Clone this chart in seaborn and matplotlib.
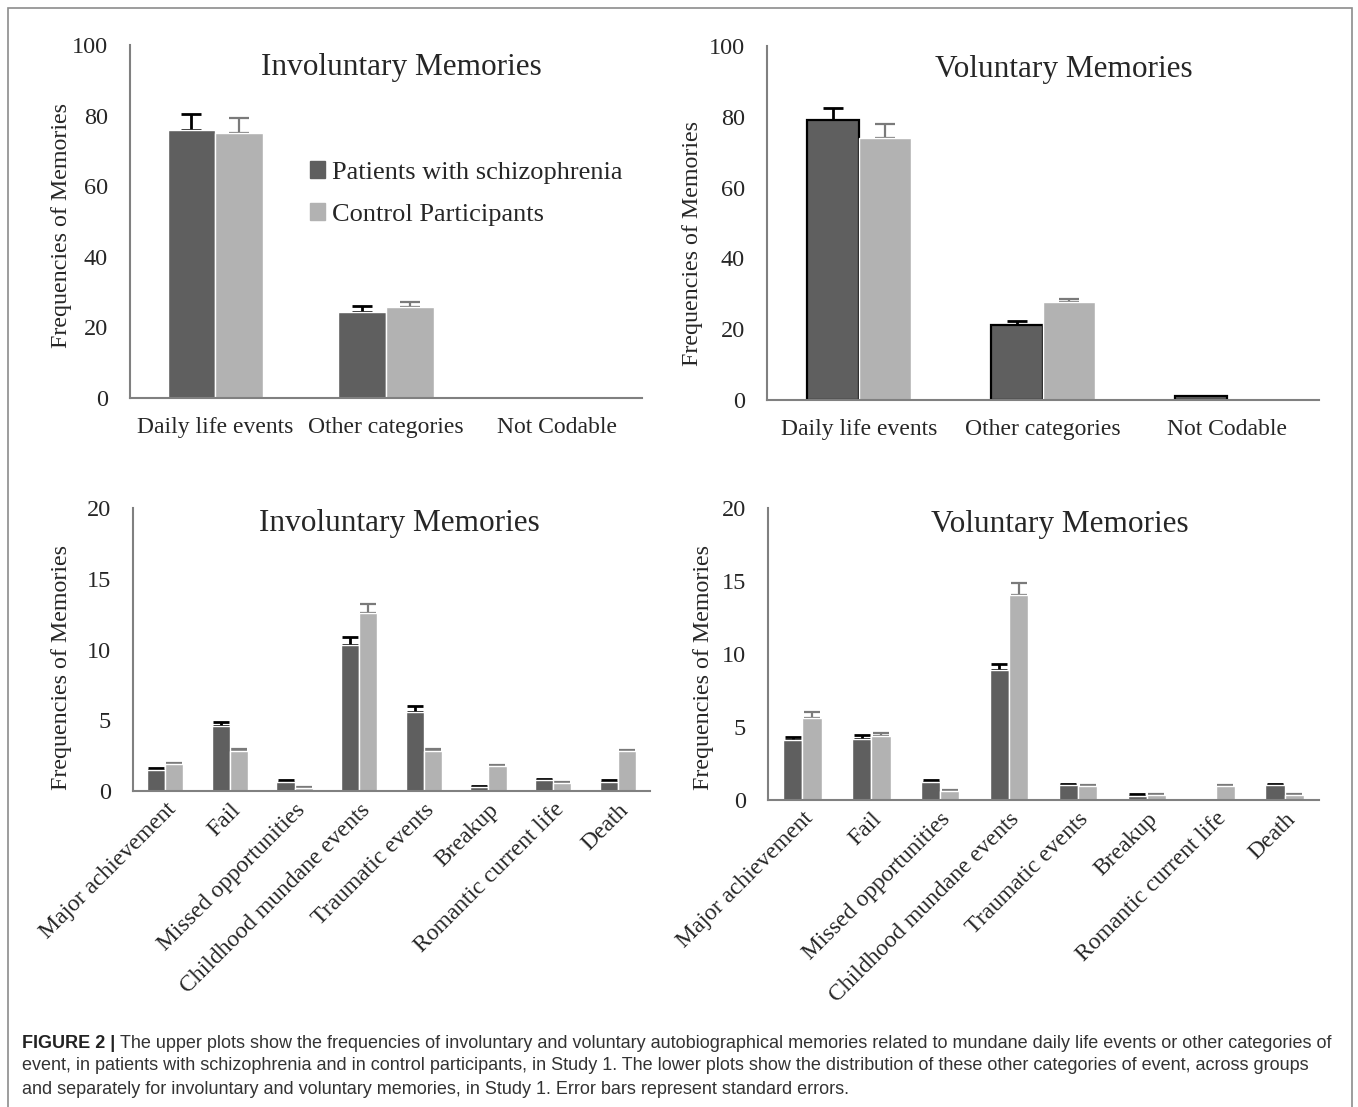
import matplotlib
matplotlib.use("Agg")
from matplotlib import pyplot as plt
from matplotlib.patches import Rectangle
import seaborn as sns
import pandas as pd
import numpy as np

sns.set_style("white")
plt.rcParams['font.family'] = ['Liberation Serif', 'DejaVu Serif']

groups = ["Patients with schizophrenia", "Control Participants"]
top_cats = ["Daily life events", "Other categories", "Not Codable"]
bottom_cats = ["Major achievement", "Fail", "Missed opportunities", "Childhood mundane events",
               "Traumatic events", "Breakup", "Romantic current life", "Death"]

# upper plots: mean and SE per group
invol_top_pat = [76.0, 24.5, 0.0]
invol_top_pat_se = [4.5, 1.5, 0.0]
invol_top_ctl = [75.0, 25.7, 0.6]
invol_top_ctl_se = [4.3, 1.5, 0.0]

vol_top_pat = [79.0, 21.3, 1.0]
vol_top_pat_se = [3.4, 1.1, 0.2]
vol_top_ctl = [74.0, 27.6, 0.0]
vol_top_ctl_se = [3.9, 1.0, 0.0]

# lower plots
invol_bot_pat = [1.5, 4.6, 0.65, 10.3, 5.6, 0.25, 0.8, 0.65]
invol_bot_pat_se = [0.1, 0.25, 0.1, 0.55, 0.4, 0.07, 0.07, 0.1]
invol_bot_ctl = [1.9, 2.8, 0.2, 12.6, 2.8, 1.8, 0.6, 2.8]
invol_bot_ctl_se = [0.1, 0.2, 0.1, 0.6, 0.2, 0.07, 0.03, 0.07]

vol_bot_pat = [4.1, 4.2, 1.25, 8.9, 1.0, 0.3, 0.0, 1.0]
vol_bot_pat_se = [0.2, 0.25, 0.1, 0.4, 0.1, 0.1, 0.0, 0.1]
vol_bot_ctl = [5.6, 4.4, 0.6, 14.05, 0.95, 0.35, 0.95, 0.35]
vol_bot_ctl_se = [0.4, 0.2, 0.1, 0.8, 0.05, 0.05, 0.05, 0.05]

dark = "#5f5f5f"
light = "#b2b2b2"
spine_col = "#808080"


def make_frame(cats, pat, pat_se, ctl, ctl_se):
    df = pd.DataFrame({
        "category": cats * 2,
        "group": [groups[0]] * len(cats) + [groups[1]] * len(cats),
        "value": pat + ctl,
        "se": pat_se + ctl_se,
    })
    return df


def draw_panel(ax, df, cats, title, ymax, ystep, title_x, outline_pat=False):
    sns.barplot(data=df, x="category", y="value", hue="group", order=cats,
                hue_order=groups, palette=[dark, light], width=0.56,
                saturation=1, legend=False, ax=ax, errorbar=None)
    n = len(cats)
    big = ymax > 50
    # error bars (upper only) drawn from each bar's position
    for i, p in enumerate(ax.patches):
        row = df.iloc[i]
        xc = p.get_x() + p.get_width() / 2
        is_pat = i < n
        col = "black" if is_pat else "#7a7a7a"
        if row["se"] > 0:
            ax.errorbar(xc, row["value"], yerr=[[0], [row["se"]]], fmt="none",
                        ecolor=col, elinewidth=2 if is_pat else 1.6,
                        capsize=7 if big else 6,
                        capthick=2 if is_pat else 1.6, zorder=1)
        if is_pat and outline_pat:
            p.set_edgecolor("black")
            p.set_linewidth(1.6)
        p.set_zorder(2)

    ax.set_ylim(0, ymax)
    ax.set_xlim(-0.5, n - 0.5)
    ax.set_yticks(np.arange(0, ymax + 1, ystep))
    ax.set_xticks(np.arange(-0.5, n, 1), minor=True)
    ax.tick_params(axis="x", which="major", length=0, pad=14 if big else 6, labelsize=17)
    ax.tick_params(axis="x", which="minor", length=6, width=1.3, color=spine_col, direction="out")
    ax.tick_params(axis="y", length=6, width=1.3, color=spine_col, direction="out",
                   labelsize=17.5, pad=10)
    for s in ["top", "right"]:
        ax.spines[s].set_visible(False)
    for s in ["left", "bottom"]:
        ax.spines[s].set_color(spine_col)
        ax.spines[s].set_linewidth(1.5)
    ax.set_xlabel("")
    ax.set_ylabel("Frequencies of Memories", fontsize=17.3, va="center")
    ax.set_title(title, fontsize=22.5, x=title_x, y=0.89)


fig = plt.figure(figsize=(13.58, 11.07), dpi=100)
W, H = 1358.0, 1107.0


def px_axes(l, t, r, b):
    return fig.add_axes([l / W, 1 - b / H, (r - l) / W, (b - t) / H])


ax1 = px_axes(130, 45, 642, 398)
ax2 = px_axes(767, 46, 1319, 400)
ax3 = px_axes(133, 508, 650, 791)
ax4 = px_axes(768, 508, 1319, 800)

draw_panel(ax1, make_frame(top_cats, invol_top_pat, invol_top_pat_se, invol_top_ctl, invol_top_ctl_se),
           top_cats, "Involuntary Memories", 100, 20, 0.53)
draw_panel(ax2, make_frame(top_cats, vol_top_pat, vol_top_pat_se, vol_top_ctl, vol_top_ctl_se),
           top_cats, "Voluntary Memories", 100, 20, 0.537, outline_pat=True)
draw_panel(ax3, make_frame(bottom_cats, invol_bot_pat, invol_bot_pat_se, invol_bot_ctl, invol_bot_ctl_se),
           bottom_cats, "Involuntary Memories", 20, 5, 0.515)
draw_panel(ax4, make_frame(bottom_cats, vol_bot_pat, vol_bot_pat_se, vol_bot_ctl, vol_bot_ctl_se),
           bottom_cats, "Voluntary Memories", 20, 5, 0.53)

# y-label positions (label centre, pixels from left edge of figure)
for ax, lab_x, lab_yc in [(ax1, 62, 225), (ax2, 693, 243), (ax3, 62, 668), (ax4, 703, 668)]:
    to_ax = ax.transAxes.inverted()
    pt = to_ax.transform((lab_x, H - lab_yc))
    ax.yaxis.set_label_coords(pt[0], pt[1])

for ax in [ax3, ax4]:
    for lab in ax.get_xticklabels():
        lab.set_rotation(45)
        lab.set_ha("right")
        lab.set_rotation_mode("anchor")

# legend on the upper-left panel
handles = [Rectangle((0, 0), 1, 1, color=dark), Rectangle((0, 0), 1, 1, color=light)]
ax1.legend(handles, groups, loc="upper left", bbox_to_anchor=(0.33, 0.70), frameon=False,
           fontsize=19, handlelength=0.6, handleheight=0.6, handletextpad=0.25,
           labelspacing=0.72, borderaxespad=0)

# outer frame
fig.add_artist(Rectangle((8 / W, -0.01), (1352 - 8) / W, 1 - 8 / H + 0.01, transform=fig.transFigure,
                         fill=False, edgecolor="#8c8c8c", linewidth=1.2))

# caption
cap_font = ['Liberation Sans', 'DejaVu Sans']
cap_col = "#333333"
lines = ["The upper plots show the frequencies of involuntary and voluntary autobiographical memories related to mundane daily life events or other categories of",
         "event, in patients with schizophrenia and in control participants, in Study 1. The lower plots show the distribution of these other categories of event, across groups",
         "and separately for involuntary and voluntary memories, in Study 1. Error bars represent standard errors."]
x0 = 22 / W
bold = fig.text(x0, 1 - 1043 / H, "FIGURE 2 |", fontsize=13, fontweight="bold",
                family=cap_font, color="#222222", va="center")
fig.canvas.draw()
bb = bold.get_window_extent(fig.canvas.get_renderer())
fig.text(bb.x1 / W + 5 / W, 1 - 1043 / H, lines[0], fontsize=13, family=cap_font,
         color=cap_col, va="center")
fig.text(x0, 1 - 1066 / H, lines[1], fontsize=13, family=cap_font, color=cap_col, va="center")
fig.text(x0, 1 - 1089 / H, lines[2], fontsize=13, family=cap_font, color=cap_col, va="center")

plt.savefig("out.png", dpi=100)
